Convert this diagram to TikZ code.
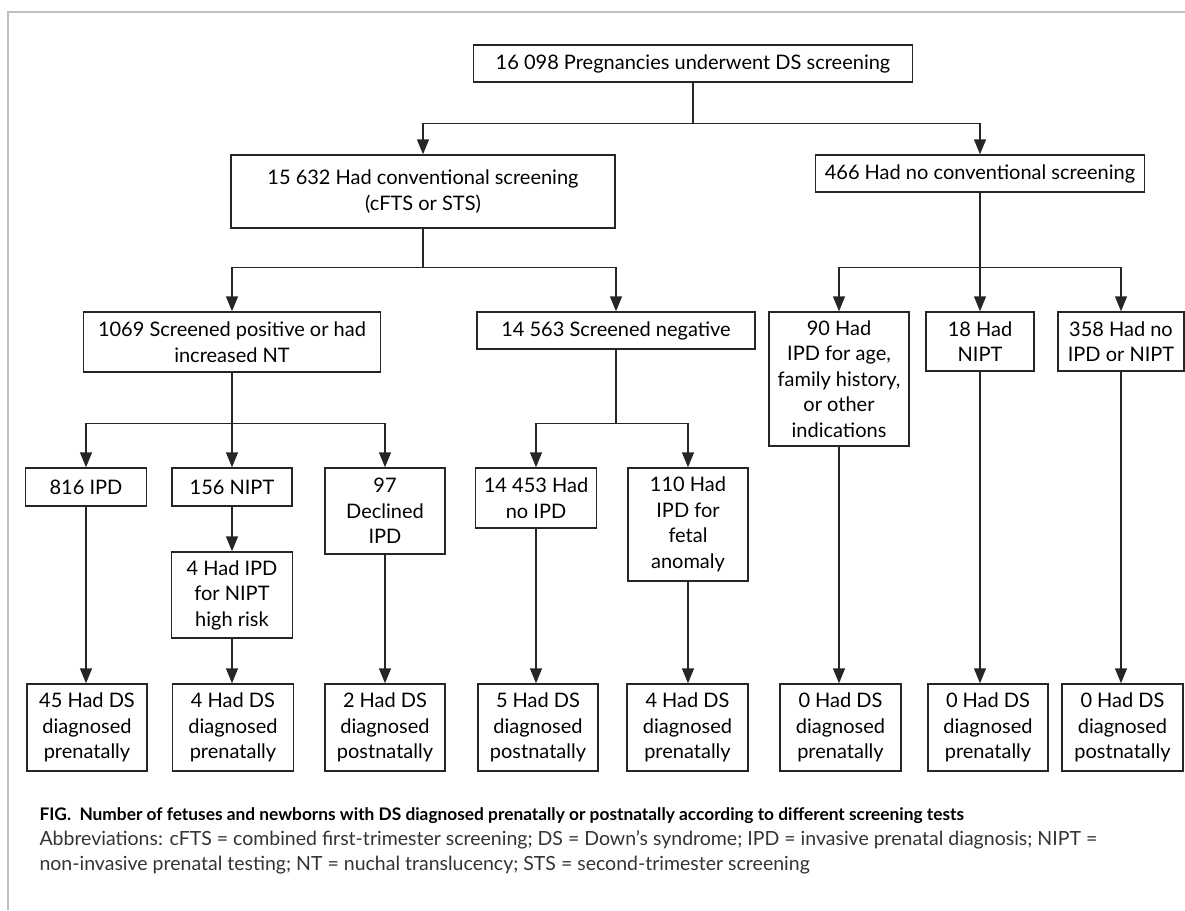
\documentclass[tikz,border=0pt]{standalone}
\usepackage{fontspec}
\setmainfont{Lato}
\usepackage{xcolor}
\usepackage{tikz}
\usetikzlibrary{arrows.meta, positioning}

\begin{document}
\begin{tikzpicture}[
    x=1pt, y=-1pt,
    box/.style={rectangle, draw=black!85, line width=1.4pt, align=center, inner sep=2pt,
                font=\fontsize{20}{25.5}\selectfont},
    link/.style={draw=black!85, line width=1.4pt},
    arr/.style={link, -{Triangle[length=15pt, width=12pt]}},
    capbold/.style={anchor=base west, font=\fontsize{17.3}{22}\selectfont\bfseries},
    capnote/.style={anchor=base west, font=\fontsize{19.5}{24}\selectfont, text=black!80}
]
\useasboundingbox (0,0) rectangle (1185,910);

% Frame
\draw[black!25, line width=1.5pt] (8,910) -- (8,12) -- (1185,12);

% Top
\node[box, minimum width=439pt, minimum height=37pt] (all) at (693,63.5) {16 098 Pregnancies underwent DS screening};

% Level 1
\node[box, minimum width=384pt, minimum height=73pt] (conv) at (423,191.5) {15 632 Had conventional screening\\(cFTS or STS)};
\node[box, minimum width=329pt, minimum height=37pt] (noconv) at (980,173.5) {466 Had no conventional screening};

% Level 2
\node[box, minimum width=297pt, minimum height=60pt] (pos) at (232,342) {1069 Screened positive or had\\increased NT};
\node[box, minimum width=278pt, minimum height=37pt] (neg) at (616,330.5) {14 563 Screened negative};
\node[box, minimum width=140pt, minimum height=134pt] (ipdage) at (839,379) {90 Had\\IPD for age,\\family history,\\or other\\indications};
\node[box, minimum width=108pt, minimum height=59pt] (nipt) at (980,341.5) {18 Had\\NIPT};
\node[box, minimum width=126pt, minimum height=59pt] (none) at (1121,341.5) {358 Had no\\IPD or NIPT};

% Level 3
\node[box, minimum width=121pt, minimum height=38pt] (ipd) at (86,487) {816 IPD};
\node[box, minimum width=120pt, minimum height=38pt] (posnipt) at (232,487) {156 NIPT};
\node[box, minimum width=120pt, minimum height=86pt] (declined) at (385,511) {97\\Declined\\IPD};
\node[box, minimum width=121pt, minimum height=60pt] (noipd) at (536,498) {14 453 Had\\no IPD};
\node[box, minimum width=120pt, minimum height=113pt] (anomaly) at (688,524.5) {110 Had\\IPD for\\fetal\\anomaly};
\node[box, minimum width=121pt, minimum height=86pt] (highrisk) at (232,595) {4 Had IPD\\for NIPT\\high risk};

% Outcomes
\node[box, minimum width=120pt, minimum height=87pt] (out1) at (87,727.5) {45 Had DS\\diagnosed\\prenatally};
\node[box, minimum width=121pt, minimum height=87pt] (out2) at (233,727.5) {4 Had DS\\diagnosed\\prenatally};
\node[box, minimum width=120pt, minimum height=87pt] (out3) at (385,727.5) {2 Had DS\\diagnosed\\postnatally};
\node[box, minimum width=120pt, minimum height=87pt] (out4) at (538,727.5) {5 Had DS\\diagnosed\\postnatally};
\node[box, minimum width=121pt, minimum height=87pt] (out5) at (687.5,727.5) {4 Had DS\\diagnosed\\prenatally};
\node[box, minimum width=121pt, minimum height=87pt] (out6) at (840.5,727.5) {0 Had DS\\diagnosed\\prenatally};
\node[box, minimum width=120pt, minimum height=87pt] (out7) at (988,727.5) {0 Had DS\\diagnosed\\prenatally};
\node[box, minimum width=121pt, minimum height=87pt] (out8) at (1122.5,727.5) {0 Had DS\\diagnosed\\postnatally};

% Branches
\draw[link] (all.south) -- ++(0,41) coordinate (jall);
\draw[arr] (jall) -| (conv.north);
\draw[arr] (jall) -| (noconv.north);

\draw[link] (conv.south) -- ++(0,39) coordinate (jconv);
\draw[arr] (jconv) -| (pos.north);
\draw[arr] (jconv) -| (neg.north);

\draw[link] (noconv.south) -- ++(0,75) coordinate (jnoconv);
\draw[arr] (jnoconv) -| (ipdage.north);
\draw[arr] (jnoconv) -- (nipt.north);
\draw[arr] (jnoconv) -| (none.north);

\draw[link] (pos.south) -- ++(0,51) coordinate (jpos);
\draw[arr] (jpos) -| (ipd.north);
\draw[arr] (jpos) -- (posnipt.north);
\draw[arr] (jpos) -| (declined.north);

\draw[link] (neg.south) -- ++(0,74) coordinate (jneg);
\draw[arr] (jneg) -| (noipd.north);
\draw[arr] (jneg) -| (anomaly.north);

% Straight drops
\draw[arr] (posnipt) -- (highrisk);
\draw[arr] (ipd.south) -- (ipd.south |- out1.north);
\draw[arr] (highrisk.south) -- (highrisk.south |- out2.north);
\draw[arr] (declined.south) -- (declined.south |- out3.north);
\draw[arr] (noipd.south) -- (noipd.south |- out4.north);
\draw[arr] (anomaly.south) -- (anomaly.south |- out5.north);
\draw[arr] (ipdage.south) -- (ipdage.south |- out6.north);
\draw[arr] (nipt.south) -- (nipt.south |- out7.north);
\draw[arr] (none.south) -- (none.south |- out8.north);

% Caption
\node[capbold] (caption) at (36,820) {FIG.\ \ Number of fetuses and newborns with DS diagnosed prenatally or postnatally according to different screening tests};
\node[capnote] (abbr1) at (36,845) {Abbreviations: cFTS = combined first-trimester screening; DS = Down's syndrome; IPD = invasive prenatal diagnosis; NIPT =};
\node[capnote] (abbr2) at (36,870) {non-invasive prenatal testing; NT = nuchal translucency; STS = second-trimester screening};

\end{tikzpicture}
\end{document}
